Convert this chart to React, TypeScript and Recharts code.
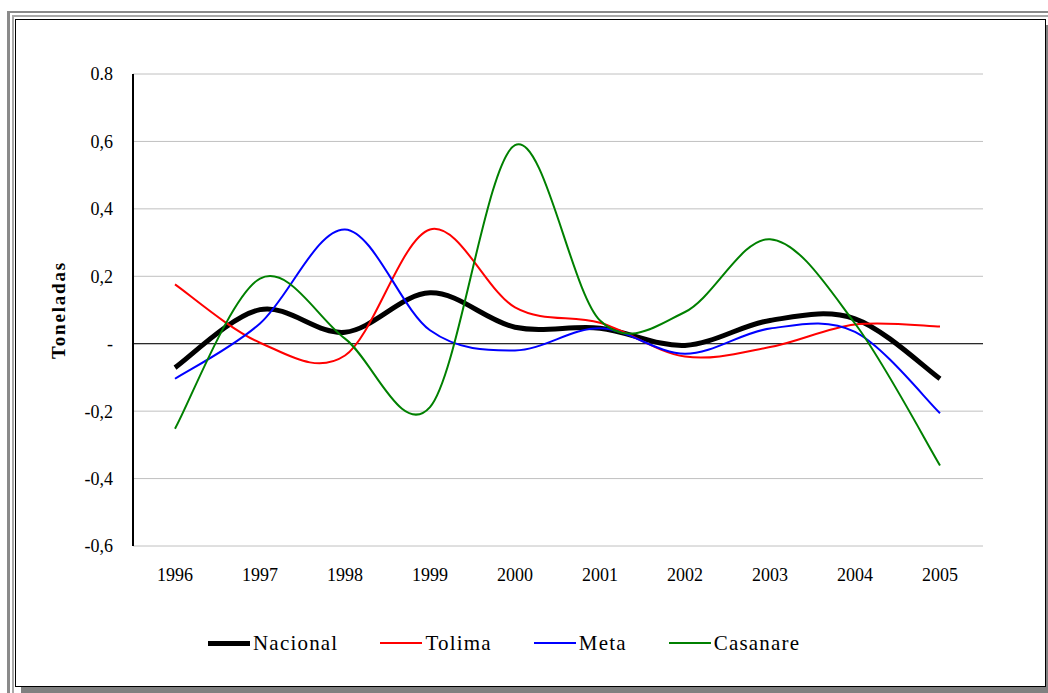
import type { JSX } from "react";

import { CartesianGrid, Line, LineChart, ReferenceLine, XAxis, YAxis } from "recharts";

// variación anual, toneladas
const years = ["1996", "1997", "1998", "1999", "2000", "2001", "2002", "2003", "2004", "2005"];
const nacional = [-0.071, 0.101, 0.034, 0.151, 0.049, 0.046, -0.005, 0.069, 0.074, -0.104];
const tolima = [0.176, 0.003, -0.035, 0.339, 0.108, 0.062, -0.038, -0.01, 0.057, 0.051];
const meta = [-0.104, 0.06, 0.339, 0.04, -0.02, 0.046, -0.03, 0.045, 0.035, -0.206];
const casanare = [-0.252, 0.193, 0.015, -0.188, 0.589, 0.069, 0.094, 0.31, 0.06, -0.361];

const yTicks = [-0.6, -0.4, -0.2, 0, 0.2, 0.4, 0.6, 0.8];
const yTickLabels = ["-0,6", "-0,4", "-0,2", "-", "0,2", "0,4", "0,6", "0.8"];

const data = years.map((year, i) => ({
	year,
	nacional: nacional[i],
	tolima: tolima[i],
	meta: meta[i],
	casanare: casanare[i],
}));

const series = [
	{ key: "nacional", name: "Nacional", color: "#000000", width: 5 },
	{ key: "tolima", name: "Tolima", color: "#ff0000", width: 2 },
	{ key: "meta", name: "Meta", color: "#0000ff", width: 2 },
	{ key: "casanare", name: "Casanare", color: "#008000", width: 2 },
];

const FONT = "'Liberation Serif', 'Times New Roman', serif";

// Excel-like smoothing (Catmull-Rom through every point)
function smoothCurve(context: any) {
	let pts: number[][] = [];
	return {
		areaStart() {},
		areaEnd() {},
		lineStart() {
			pts = [];
		},
		point(x: number, y: number) {
			pts.push([+x, +y]);
		},
		lineEnd() {
			const n = pts.length;
			if (!n) return;
			context.moveTo(pts[0][0], pts[0][1]);
			for (let i = 0; i < n - 1; i++) {
				const p0 = pts[Math.max(i - 1, 0)];
				const p1 = pts[i];
				const p2 = pts[i + 1];
				const p3 = pts[Math.min(i + 2, n - 1)];
				context.bezierCurveTo(
					p1[0] + (p2[0] - p0[0]) / 6,
					p1[1] + (p2[1] - p0[1]) / 6,
					p2[0] - (p3[0] - p1[0]) / 6,
					p2[1] - (p3[1] - p1[1]) / 6,
					p2[0],
					p2[1],
				);
			}
		},
	};
}

const abs = (left: number, top: number, width: number, height: number, background: string) => ({
	position: "absolute" as const,
	left,
	top,
	width,
	height,
	background,
});

export default function App(): JSX.Element {
	return (
		<div style={{ position: "absolute", left: 0, top: 0, width: 1048, height: 693, background: "#fff", overflow: "hidden" }}>
			{/* marco */}
			<div style={abs(7, 11, 3, 682, "#8a8a8a")} />
			<div style={abs(7, 11, 1041, 2, "#8a8a8a")} />
			<div style={abs(12, 15, 2, 678, "#a8a8a8")} />
			<div style={abs(12, 15, 1036, 2, "#a8a8a8")} />
			<div style={abs(21, 25, 1027, 668, "#808080")} />
			<div style={{ ...abs(15, 19, 1031, 668, "#fff"), boxSizing: "border-box", border: "1px solid #000" }} />

			<LineChart
				width={1048}
				height={693}
				data={data}
				margin={{ top: 74, right: 65, bottom: 0, left: 13 }}
				style={{ position: "absolute", left: 0, top: 0 }}
			>
				<CartesianGrid horizontal vertical={false} stroke="#c0c0c0" />
				<XAxis
					dataKey="year"
					axisLine={false}
					tickLine={false}
					tickSize={0}
					tickMargin={22}
					height={147}
					interval={0}
					padding={{ left: 42, right: 43 }}
					tick={{ fill: "#000", fontSize: 18, fontFamily: FONT }}
				/>
				<YAxis
					width={120}
					domain={[-0.6, 0.8]}
					ticks={yTicks}
					interval={0}
					axisLine={{ stroke: "#000", strokeWidth: 2 }}
					tickLine={false}
					tickSize={0}
					tickMargin={20}
					tick={{ fill: "#000", fontSize: 18, fontFamily: FONT }}
					tickFormatter={(_v: number, i: number) => yTickLabels[i]}
					label={{
						value: "Toneladas",
						angle: -90,
						position: "insideLeft",
						offset: 45,
						style: { textAnchor: "middle", fontFamily: FONT, fontSize: 19, fontWeight: "bold", fill: "#000", letterSpacing: 1.8 },
					}}
				/>
				<ReferenceLine y={0} stroke="#000" strokeWidth={1} />
				{series.map((s) => (
					<Line
						key={s.key}
						dataKey={s.key}
						name={s.name}
						stroke={s.color}
						strokeWidth={s.width}
						type={smoothCurve as any}
						dot={false}
						activeDot={false}
						isAnimationActive={false}
					/>
				))}
			</LineChart>

			{/* leyenda */}
			<div
				style={{
					position: "absolute",
					left: 208,
					top: 630,
					height: 26,
					display: "flex",
					alignItems: "center",
					gap: 42,
					fontFamily: FONT,
					fontSize: 21,
					letterSpacing: 1.2,
				}}
			>
				{series.map((s) => (
					<div key={s.key} style={{ display: "flex", alignItems: "center" }}>
						<div style={{ width: 42, height: s.width, background: s.color, marginRight: 3 }} />
						<span>{s.name}</span>
					</div>
				))}
			</div>
		</div>
	);
}
